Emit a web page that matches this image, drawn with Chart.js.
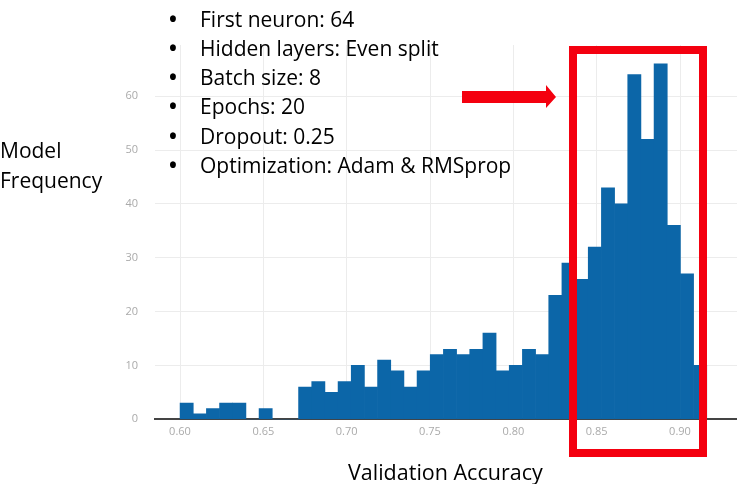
<!DOCTYPE html>
<html>
<head>
<meta charset="utf-8">
<script src="https://cdn.jsdelivr.net/npm/chart.js@4.4.0/dist/chart.umd.min.js"></script>
<style>
  body { margin: 0; background: #fff; }
  #wrap { position: relative; width: 737px; height: 484px; overflow: hidden; font-family: 'Open Sans', sans-serif; color: #000; }
  #chart { position: absolute; left: 0; top: 0; }
  .note { position: absolute; font-size: 21px; font-weight: 500; white-space: nowrap; }
  #bullets { left: 146px; top: 4.5px; line-height: 29.3px; }
  #bullets span { display: inline-block; width: 54px; text-align: center; font-weight: 700; }
  #ytitle { left: 0; top: 135px; line-height: 30px; }
  #xtitle { left: 348px; top: 462px; line-height: 20px; font-size: 21.5px; }
  #overlay { position: absolute; left: 0; top: 0; }
</style>
</head>
<body>
<div id="wrap">
  <canvas id="chart" width="737" height="484"></canvas>
  <svg id="overlay" width="737" height="484">
    <rect x="573" y="50" width="130" height="403" fill="none" stroke="#f4000f" stroke-width="8"/>
    <polygon points="462,91 546,91 546,85 556,97 546,108 546,103 462,103" fill="#f4000f"/>
  </svg>
  <div class="note" id="bullets"></div>
  <div class="note" id="ytitle">Model<br>Frequency</div>
  <div class="note" id="xtitle">Validation Accuracy</div>
</div>
<script>
// histogram bins (centre of each bin) and model counts
const binCenters = [0.6040, 0.6119, 0.6198, 0.6277, 0.6356, 0.6435, 0.6514, 0.6593, 0.6672, 0.6751,
                    0.6830, 0.6909, 0.6988, 0.7067, 0.7146, 0.7225, 0.7304, 0.7383, 0.7462, 0.7541,
                    0.7620, 0.7699, 0.7778, 0.7857, 0.7936, 0.8015, 0.8094, 0.8173, 0.8252, 0.8331,
                    0.8410, 0.8489, 0.8568, 0.8647, 0.8726, 0.8805, 0.8884, 0.8963, 0.9042, 0.9121]
const counts = [3, 1, 2, 3, 3, 0, 2, 0, 0, 6,
                7, 5, 7, 10, 6, 11, 9, 6, 9, 12,
                13, 12, 13, 16, 9, 10, 13, 12, 23, 29,
                26, 32, 43, 40, 64, 52, 66, 36, 27, 10]

const settings = ['First neuron: 64', 'Hidden layers: Even split', 'Batch size: 8',
                  'Epochs: 20', 'Dropout: 0.25', 'Optimization: Adam & RMSprop']

document.getElementById('bullets').innerHTML = settings.map((s)=>{
  return '<span>\u2022</span>' + s.replace('&', '&amp;')
}).join('<br>')

const ctx = document.getElementById('chart').getContext('2d')

const chart = new Chart(ctx, {
  type: 'bar',
  data: {
    datasets: [{
      data: binCenters.map((x, i)=>({x: x, y: counts[i]})),
      backgroundColor: '#0c66a8',
      borderWidth: 0,
      barPercentage: 1,
      categoryPercentage: 1
    }]
  },
  options: {
    responsive: false,
    animation: false,
    layout: { padding: { left: 0, right: 0, top: 45, bottom: 0 } },
    plugins: { legend: { display: false }, tooltip: { enabled: false } },
    scales: {
      x: {
        type: 'linear',
        offset: false,
        min: 0.585,
        max: 0.9342,
        afterFit: (scale)=>{ scale.height = 64.7 },
        grid: { color: '#ececec', drawTicks: false, offset: false },
        border: { display: true, color: '#444', width: 2 },
        ticks: {
          stepSize: 0.05,
          includeBounds: false,
          padding: 6,
          color: '#aaa',
          font: { family: 'Open Sans', size: 11 },
          maxRotation: 0,
          callback: (v)=> v.toFixed(2)
        }
      },
      y: {
        min: 0,
        max: 69.5,
        afterFit: (scale)=>{ scale.width = 155 },
        grid: { color: '#ececec', drawTicks: false },
        border: { display: false },
        ticks: {
          stepSize: 10,
          includeBounds: false,
          padding: 17,
          color: '#aaa',
          font: { family: 'Open Sans', size: 11 }
        }
      }
    }
  }
})
</script>
</body>
</html>
